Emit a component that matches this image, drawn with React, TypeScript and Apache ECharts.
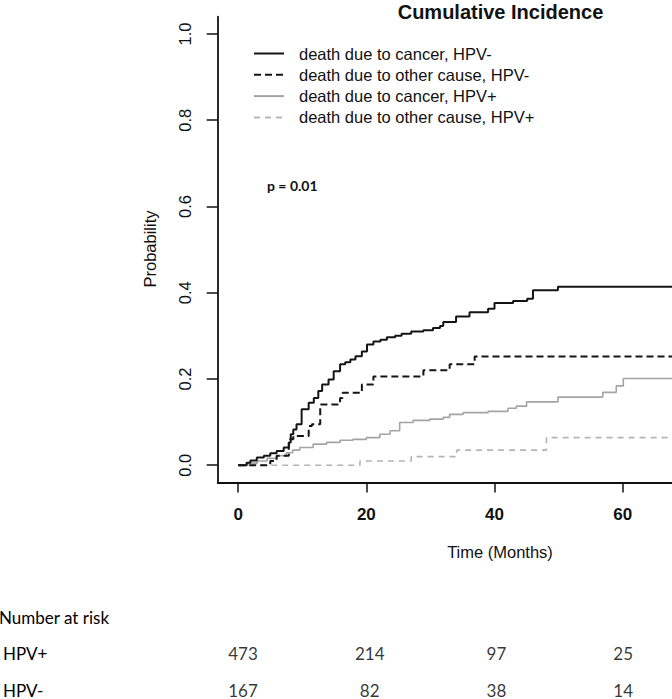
import React, { useEffect, useRef } from "react";
import * as echarts from "echarts";

// ---- Data ----
const TIME_TICKS = [0, 20, 40, 60];
const PROB_TICKS = [0, 0.2, 0.4, 0.6, 0.8, 1.0];

const SERIES_NAMES = [
  "death due to cancer, HPV-",
  "death due to other cause, HPV-",
  "death due to cancer, HPV+",
  "death due to other cause, HPV+",
];

// [time (months), cumulative incidence]
const cancerHpvNeg = [
  [0, 0], [1.3, 0.006], [1.9, 0.011], [2.9, 0.018], [4.0, 0.022], [5.0, 0.028],
  [6.0, 0.033], [7.1, 0.041], [7.9, 0.053], [8.2, 0.072], [8.6, 0.083], [9.1, 0.095],
  [9.9, 0.13], [11.0, 0.145], [11.8, 0.156], [12.5, 0.172], [13.1, 0.187], [14.1, 0.199],
  [14.9, 0.218], [15.9, 0.234], [16.7, 0.239], [17.5, 0.245], [18.3, 0.253], [19.3, 0.264],
  [20.1, 0.28], [21.1, 0.287], [22.2, 0.291], [23.2, 0.297], [24.5, 0.3], [25.5, 0.305],
  [27.0, 0.31], [28.9, 0.313], [30.4, 0.318], [31.5, 0.323], [32.0, 0.332], [34.0, 0.345],
  [36.1, 0.355], [39.0, 0.363], [40.0, 0.376], [42.9, 0.381], [45.1, 0.386], [46.0, 0.406],
  [49.9, 0.414], [67.7, 0.414],
];

const otherHpvNeg = [
  [0, 0], [5.0, 0.01], [6.0, 0.022], [7.9, 0.06], [8.6, 0.068], [11.0, 0.091],
  [11.5, 0.095], [12.8, 0.141], [15.9, 0.156], [16.3, 0.168], [19.3, 0.187], [21.1, 0.206],
  [28.9, 0.22], [33.0, 0.234], [36.9, 0.252], [67.7, 0.252],
];

const cancerHpvPos = [
  [0, 0], [1.5, 0.005], [3.0, 0.01], [4.5, 0.016], [6.0, 0.022], [7.5, 0.029],
  [8.5, 0.035], [9.6, 0.041], [11.7, 0.049], [13.8, 0.053], [15.9, 0.058], [17.9, 0.06],
  [20.0, 0.064], [22.1, 0.072], [23.7, 0.08], [25.2, 0.099], [27.3, 0.104], [29.9, 0.107],
  [32.0, 0.111], [33.0, 0.118], [35.1, 0.122], [39.0, 0.125], [42.1, 0.132], [43.4, 0.137],
  [45.0, 0.147], [49.9, 0.158], [56.9, 0.169], [59.0, 0.184], [60.1, 0.201], [67.7, 0.201],
];

const otherHpvPos = [
  [0, 0], [19.0, 0.01], [27.0, 0.02], [34.1, 0.035], [48.1, 0.064], [67.7, 0.064],
];

const RISK_TIMES = [0, 20, 40, 60];
const RISK_GROUPS = ["HPV+", "HPV-"];
const RISK_HPV_POS = [473, 214, 97, 25];
const RISK_HPV_NEG = [167, 82, 38, 14];

// ---- Layout ----
const X_MIN = -3.2;
const X_MAX = 67.7;
const Y_MIN = -0.04;
const Y_MAX = 1.04;
const GRID_LEFT = 217.7;
const GRID_TOP = 16.7;
const GRID_H = 465.8;
const GRID_W = 672 - 217.7;

const SANS = "'Liberation Sans', Arial, Helvetica, sans-serif";
const CAL = "Lato, 'Open Sans', sans-serif";
const INK = "#111";

export default function App() {
  const ref = useRef<HTMLDivElement>(null);

  useEffect(() => {
    if (!ref.current) return;
    const chart = echarts.init(ref.current, undefined, { renderer: "svg" });

    const styles = [
      { color: "#141414", width: 2, type: "solid" as any },
      { color: "#141414", width: 2, type: [7, 4] as any },
      { color: "#a4a4a4", width: 1.6, type: "solid" as any },
      { color: "#b4b4b4", width: 1.6, type: [6, 5] as any },
    ];
    const datasets = [cancerHpvNeg, otherHpvNeg, cancerHpvPos, otherHpvPos];

    const riskData: any[] = [];
    RISK_TIMES.forEach((t, i) => {
      riskData.push([t, RISK_GROUPS[0], RISK_HPV_POS[i]]);
      riskData.push([t, RISK_GROUPS[1], RISK_HPV_NEG[i]]);
    });

    const option: any = {
      animation: false,
      backgroundColor: "#fff",
      legend: {
        orient: "vertical",
        left: 253,
        top: 45,
        padding: 0,
        itemWidth: 30,
        itemHeight: 14,
        itemGap: 4.3,
        selectedMode: false,
        data: SERIES_NAMES,
        itemStyle: { opacity: 0 },
        textStyle: {
          fontFamily: SANS,
          fontSize: 16.5,
          color: INK,
          padding: [0, 0, 0, 10],
        },
      },
      grid: [
        { left: GRID_LEFT, top: GRID_TOP, width: GRID_W, height: GRID_H },
        { left: GRID_LEFT, top: 653, width: GRID_W, height: 37 },
      ],
      xAxis: [
        {
          type: "value",
          gridIndex: 0,
          min: X_MIN,
          max: X_MAX,
          splitLine: { show: false },
          axisLine: { show: true, onZero: false, lineStyle: { color: INK, width: 1.8 } },
          axisTick: {
            show: true,
            customValues: TIME_TICKS,
            length: 10,
            lineStyle: { color: INK, width: 1.5 },
          },
          axisLabel: {
            customValues: TIME_TICKS,
            margin: 23,
            fontFamily: SANS,
            fontSize: 17,
            fontWeight: "bold",
            color: INK,
          },
        },
        {
          type: "value",
          gridIndex: 1,
          min: X_MIN,
          max: X_MAX,
          show: false,
        },
      ],
      yAxis: [
        {
          type: "value",
          gridIndex: 0,
          min: Y_MIN,
          max: Y_MAX,
          splitLine: { show: false },
          axisLine: { show: true, onZero: false, lineStyle: { color: INK, width: 1.8 } },
          axisTick: {
            show: true,
            customValues: PROB_TICKS,
            length: 11,
            lineStyle: { color: INK, width: 1.5 },
          },
          axisLabel: {
            customValues: PROB_TICKS,
            rotate: 90,
            margin: 24,
            fontFamily: SANS,
            fontSize: 16.5,
            color: INK,
            formatter: (v: number) => v.toFixed(1),
          },
        },
        {
          type: "category",
          gridIndex: 1,
          data: RISK_GROUPS,
          inverse: true,
          boundaryGap: false,
          axisLine: { show: false },
          axisTick: { show: false },
          splitLine: { show: false },
          axisLabel: {
            show: true,
            margin: GRID_LEFT + 2,
            align: "left",
            fontFamily: CAL,
            fontSize: 17,
            color: "#000",
          },
        },
      ],
      graphic: [
        {
          type: "text",
          x: 500.5,
          y: 12,
          style: {
            text: "Cumulative Incidence",
            font: `bold 20px ${SANS}`,
            fill: INK,
            textAlign: "center",
            textVerticalAlign: "middle",
          },
        },
        {
          type: "text",
          x: 150,
          y: 249,
          rotation: Math.PI / 2,
          style: {
            text: "Probability",
            font: `16.5px ${SANS}`,
            fill: INK,
            textAlign: "center",
            textVerticalAlign: "middle",
          },
        },
        {
          type: "text",
          x: 500,
          y: 552,
          style: {
            text: "Time (Months)",
            font: `16.5px ${SANS}`,
            fill: INK,
            textAlign: "center",
            textVerticalAlign: "middle",
          },
        },
        {
          type: "text",
          x: 267,
          y: 185,
          style: {
            text: "p = 0.01",
            font: `bold 14px ${CAL}`,
            fill: INK,
            textAlign: "left",
            textVerticalAlign: "middle",
          },
        },
        {
          type: "text",
          x: -1,
          y: 617,
          style: {
            text: "Number at risk",
            font: `17px ${CAL}`,
            fill: "#000",
            textAlign: "left",
            textVerticalAlign: "middle",
          },
        },
      ],
      series: [
        ...datasets.map((d, i) => ({
          name: SERIES_NAMES[i],
          type: "line",
          xAxisIndex: 0,
          yAxisIndex: 0,
          step: "end",
          data: d,
          symbol: "none",
          showSymbol: false,
          lineStyle: styles[i],
          itemStyle: { color: styles[i].color },
          z: 10 - i,
        })),
        {
          name: "risk",
          type: "scatter",
          xAxisIndex: 1,
          yAxisIndex: 1,
          data: riskData,
          symbolSize: 1,
          itemStyle: { color: "rgba(0,0,0,0)" },
          label: {
            show: true,
            position: "inside",
            formatter: (p: any) => String(p.value[2]),
            fontFamily: CAL,
            fontSize: 17,
            color: "#000",
          },
        },
      ],
    };

    chart.setOption(option);
    return () => chart.dispose();
  }, []);

  return (
    <div
      ref={ref}
      style={{ position: "fixed", left: 0, top: 0, width: 672, height: 699 }}
    />
  );
}
